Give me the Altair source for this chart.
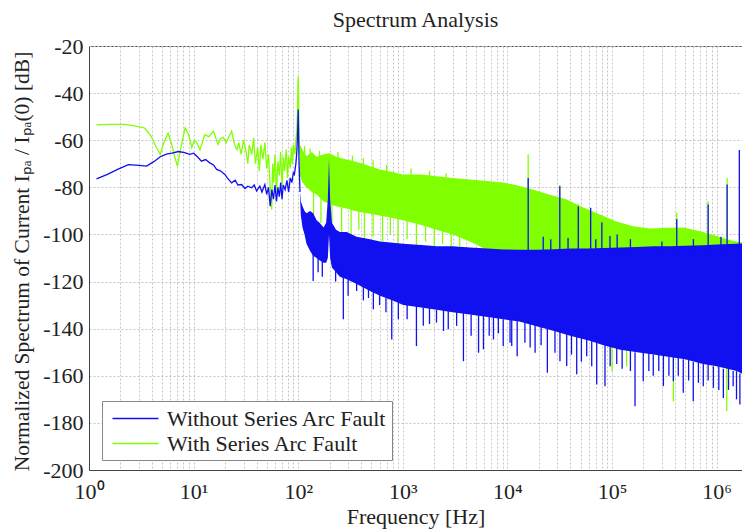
import altair as alt
import pandas as pd

FONT = "Liberation Serif"
BLUE = "#1010f0"
GREEN = "#80ff00"
S_WITHOUT = "Without Series Arc Fault"
S_WITH = "With Series Arc Fault"

# ---- low-frequency traces (Hz, dB) ----
green_lf_f = [1.18, 1.6, 2.0, 2.3, 2.8, 3.4, 3.9, 4.4, 4.8, 5.2, 5.7, 6.2, 6.6, 7.0, 7.5, 8.3, 9.0, 9.6,
              10.2, 10.7, 11.5, 12.8, 14.0, 15.5, 16.3, 17.1, 18.0, 19.1, 20.5, 21.5, 23.1, 24.1, 24.9,
              26.0, 27.0, 28.5, 30.0, 31.5, 33.0, 34.0, 36.0, 37.5, 39.0, 41.0, 42.5, 44.0, 46.0, 48.0,
              50.0, 52.0, 54.0, 55.8, 57.0, 58.5, 60.0, 62.0, 64.0, 66.0, 68.0, 70.0, 72.0, 74.0, 77.0,
              79.0, 81.0, 84.0, 86.0, 88.0, 90.0, 93.0, 95.0, 97.0, 98.5, 99.3, 100.0, 100.7, 102.0, 104.0]
green_lf_db = [-53.5, -53.3, -53.3, -53.4, -54.0, -54.8, -58.0, -63.0, -66.0, -61.0, -57.0, -62.0, -67.0,
               -71.0, -64.0, -54.7, -58.0, -63.0, -60.0, -61.0, -64.0, -57.6, -58.5, -56.2, -59.0, -61.8,
               -59.5, -58.7, -61.0, -59.0, -56.2, -60.0, -62.4, -64.0, -61.0, -66.0, -60.0, -64.0, -70.0,
               -62.0, -66.0, -59.0, -70.0, -63.0, -73.0, -62.0, -68.0, -61.0, -72.0, -66.0, -80.0, -89.4,
               -70.0, -78.0, -66.0, -82.0, -69.0, -75.0, -65.0, -80.0, -67.0, -73.0, -64.0, -76.0, -67.0,
               -72.0, -63.0, -70.0, -62.0, -66.0, -60.0, -56.0, -48.0, -38.0, -33.0, -40.0, -60.0, -66.0]

blue_lf_f = [1.18, 1.5, 1.9, 2.38, 3.0, 3.56, 4.2, 4.8, 5.5, 6.2, 7.15, 8.2, 9.2, 10.0, 10.7, 11.9, 13.0,
             14.3, 15.5, 16.6, 18.0, 19.9, 21.0, 23.1, 25.0, 26.5, 28.8, 31.0, 33.0, 35.9, 38.0, 40.0,
             43.0, 45.0, 48.0, 50.0, 52.0, 54.0, 56.0, 58.0, 60.0, 62.0, 64.0, 66.0, 68.0, 70.0, 72.0,
             75.0, 78.0, 81.0, 84.0, 87.0, 89.8, 92.0, 95.0, 97.0, 98.5, 99.3, 100.0, 100.7, 102.0, 104.0]
blue_lf_db = [-76.4, -74.5, -72.3, -70.4, -70.7, -71.0, -69.0, -67.0, -65.9, -65.5, -64.8, -65.3, -66.0,
              -65.5, -66.7, -68.9, -68.2, -69.6, -70.5, -72.4, -73.0, -74.5, -76.0, -78.1, -77.0, -79.0,
              -78.8, -80.5, -79.5, -80.2, -79.0, -81.5, -79.5, -82.0, -78.8, -83.0, -80.0, -88.0, -81.0,
              -85.0, -79.0, -86.0, -80.0, -84.0, -78.0, -85.0, -79.0, -81.0, -77.0, -82.0, -76.0, -78.0,
              -73.8, -74.5, -70.0, -65.0, -58.0, -52.0, -47.0, -55.0, -70.0, -82.0]

# ---- dense noise bands above 100 Hz: upper envelope / solid lower edge ----
green_band_f = [104, 110, 120, 135, 150, 175, 200, 230, 290, 350, 450, 600, 800, 1000, 1500, 2100, 3000,
                4370, 6000, 9120, 12000, 17700, 25000, 36900, 50000, 76700, 110000, 159000, 230000,
                332000, 480000, 695000, 1000000, 1450000, 2100000]
green_band_hi = [-62, -64, -66.8, -65, -67, -66, -65.5, -67, -68.2, -69, -70.5, -72.4, -73.5, -74.5, -74.5,
                 -75.3, -76, -76.7, -77.2, -78, -79, -81, -83, -85.2, -88, -91.5, -94.5, -96.5, -97.5,
                 -97.2, -97, -98.6, -100.7, -102.8, -104]
green_band_lo = [-75, -78, -80, -82, -83, -86, -87, -88, -89, -90, -91, -92, -93, -94, -96, -98, -100,
                 -103, -106, -120, -120, -120, -120, -120, -120, -120, -120, -120, -120, -120, -120,
                 -120, -120, -120, -120]

blue_band_f = [104, 106, 110, 115, 120, 130, 139, 150, 160, 175, 185, 192, 197, 202, 210, 230, 250, 291,
               362, 486, 606, 800, 1010, 1500, 2100, 3000, 4370, 6500, 9120, 13000, 19000, 28000, 39800,
               60000, 83000, 120000, 174000, 250000, 355000, 500000, 743000, 1000000, 1560000, 2100000]
blue_band_hi = [-82, -86, -88, -90, -91, -90, -91, -94, -95, -97, -95, -85, -68, -85, -95, -98, -99, -99,
                -101, -102, -103, -103.5, -104, -104.5, -105, -105, -105.5, -106, -106.4, -106.5, -106.5,
                -106.3, -106, -106, -105.8, -105.5, -105.3, -105, -105, -104.8, -104.6, -104.3, -104,
                -103.7]
blue_band_lo = [-84, -92, -97, -100, -104, -107, -109, -110, -111, -112, -112, -110, -100, -110, -114,
                -116, -118, -119, -121, -124, -126, -128, -130, -131, -132, -133, -134, -135, -136, -137,
                -139, -141, -143, -145, -147, -149, -150, -151, -152, -153, -155, -156, -158, -161]

# ---- individual spikes (Hz, top dB, bottom dB) ----
green_up_f = [115, 130, 160, 240, 330, 420, 520, 700, 1200, 1800, 2600, 15800, 31700, 47600, 416000,
              830000, 1260000, 2050000]
green_up_top = [-62.5, -63.5, -64.5, -65, -66.5, -67.5, -68.5, -70.5, -72, -73, -74, -66, -79, -87, -90.8,
                -85.9, -76, -91]
green_up_bot = [-70, -70, -70, -70, -72, -73, -74, -75, -76, -77, -78, -85, -88, -90, -100, -100, -104,
                -106]

green_dn_f = [140, 165, 210, 260, 320, 380, 430, 520, 640, 760, 900, 1100, 1350, 1650, 2000, 2400, 2900,
              3500, 100000, 138000, 386000, 1250000]
green_dn_top = [-80, -84, -86, -88, -89, -90, -90, -91, -92, -92, -93, -94, -95, -96, -97, -98, -99, -101,
                -140, -145, -150, -155]
green_dn_bot = [-92, -95, -100, -99, -102, -98, -104, -101, -103, -100, -104, -102, -105, -103, -106, -104,
                -106, -105, -158, -156, -171, -175]

blue_up_f = [22000, 26000, 38000, 70000, 150000, 300000, 600000, 1100000, 15800, 31700, 47600, 62500,
             80000, 95600, 112000, 416000, 830000, 1260000, 1650000, 2050000]
blue_up_top = [-101, -102, -101.5, -102, -102, -103, -102, -101, -76, -79.5, -88, -88.7, -94.8, -100.7,
               -100, -93.6, -87.3, -78.8, -64.2, -93]
blue_up_bot = [-107, -107, -107, -107, -107, -107, -107, -107, -107, -107, -107, -107, -107, -107, -107,
               -107, -107, -107, -107, -107]

blue_dn_f = [139, 155, 170, 228, 270, 300, 362, 420, 470, 523, 600, 690, 784, 906, 1100, 1350, 1570, 1800,
             2100, 2450, 2720, 3270, 3800, 4500, 5300, 5900, 6700, 7360, 8200, 9120, 10600, 11000, 12400,
             14700, 16500, 18400, 21000, 24100, 28500, 31800, 36900, 41000, 46000, 51000, 57300, 64000,
             71400, 85700, 96000, 111000, 125000, 150000, 166000, 199000, 225000, 248000, 280000, 310000,
             350000, 386000, 430000, 480000, 540000, 598000, 670000, 746000, 830000, 932000, 1050000,
             1160000, 1300000, 1440000, 1550000, 1670000, 1800000, 1940000, 2040000]
blue_dn_top = [-108, -110, -111, -115, -117, -119, -120, -122, -123, -124, -125, -127, -127, -129, -130,
               -130, -131, -131, -132, -132, -132, -133, -133, -134, -134, -134, -135, -135, -135, -136,
               -136, -136, -136, -137, -138, -138, -139, -140, -141, -141, -142, -143, -143, -144, -144,
               -145, -146, -147, -147, -148, -149, -149, -150, -150, -150, -151, -151, -151, -152, -152,
               -152, -153, -153, -154, -154, -155, -155, -156, -156, -157, -157, -158, -158, -159, -159,
               -160, -160]
blue_dn_bot = [-119.8, -116, -118, -120, -136, -126, -124, -128, -127, -131.8, -130, -133, -144.6, -136,
               -136, -147.4, -138.8, -138, -137.4, -141, -140.3, -138.8, -153.8, -143, -150.2, -148.8,
               -143, -144.6, -142, -147.4, -146, -147.4, -151.7, -146, -148, -150.2, -147, -158.7,
               -150.2, -153.8, -155.9, -151, -159.4, -154, -151.7, -156, -163.7, -164.4, -156, -155,
               -157, -158, -172.9, -162.3, -158, -160, -158, -164.4, -160, -162.3, -160, -167.2, -162,
               -170.8, -163, -164.4, -162, -165.1, -166, -169.4, -166, -164.4, -170, -172.2, -169,
               -182.8, -184]

x_ticks = [1, 2, 3, 4, 5, 6, 7, 8, 9, 10, 20, 30, 40, 50, 60, 70, 80, 90, 100, 200, 300, 400, 500, 600, 700,
           800, 900, 1000, 2000, 3000, 4000, 5000, 6000, 7000, 8000, 9000, 10000, 20000, 30000, 40000,
           50000, 60000, 70000, 80000, 90000, 100000, 200000, 300000, 400000, 500000, 600000, 700000,
           800000, 900000, 1000000]
y_ticks = [-200, -180, -160, -140, -120, -100, -80, -60, -40, -20]

# ---- tables ----
green_lf = pd.DataFrame({"f": green_lf_f, "db": green_lf_db, "series": S_WITH})
blue_lf = pd.DataFrame({"f": blue_lf_f, "db": blue_lf_db, "series": S_WITHOUT})
green_band = pd.DataFrame({"f": green_band_f, "hi": green_band_hi, "lo": green_band_lo})
blue_band = pd.DataFrame({"f": blue_band_f, "hi": blue_band_hi, "lo": blue_band_lo})
green_up = pd.DataFrame({"f": green_up_f, "top": green_up_top, "bot": green_up_bot})
green_dn = pd.DataFrame({"f": green_dn_f, "top": green_dn_top, "bot": green_dn_bot})
blue_up = pd.DataFrame({"f": blue_up_f, "top": blue_up_top, "bot": blue_up_bot})
blue_dn = pd.DataFrame({"f": blue_dn_f, "top": blue_dn_top, "bot": blue_dn_bot})

PLOT_W = 653
PLOT_H = 424
DECADE_PX = 104.6
x_scale = alt.Scale(type="log", domain=[1, 10 ** (PLOT_W / DECADE_PX)], nice=False)
y_scale = alt.Scale(domain=[-200, -20], nice=False)

sup_expr = ("abs(log(datum.value)/LN10 - round(log(datum.value)/LN10)) < 0.001 ? "
            "'10' + ['\u2070','\u00b9','\u00b2','\u00b3','\u2074','\u2075','\u2076'][round(log(datum.value)/LN10)] : ''")

x_axis = alt.Axis(values=x_ticks, labelExpr=sup_expr, title="Frequency [Hz]", grid=True,
                  gridColor="#c4c4c4", gridDash=[2, 2], gridWidth=1, ticks=False, domainColor="#444",
                  labelFont=FONT, labelFontSize=22, labelColor="#222", labelPadding=11, labelFlush=False,
                  labelOverlap=False, titleFont=FONT, titleFontSize=22, titleFontWeight="normal",
                  titleColor="#222", titlePadding=4)
y_axis = alt.Axis(values=y_ticks, labelExpr="'' + datum.value",
                  title="Normalized Spectrum of Current I\u209a\u2090 / I\u209a\u2090(0) [dB]", grid=True,
                  gridColor="#c4c4c4", gridDash=[2, 2], gridWidth=1, ticks=False, domainColor="#444",
                  labelFont=FONT, labelFontSize=22, labelColor="#222", labelPadding=6,
                  labelFlush=False, titleFont=FONT, titleFontSize=21.5, titleFontWeight="normal",
                  titleColor="#222", titlePadding=9, titleY=PLOT_H / 2 + 3)

X = alt.X("f:Q", scale=x_scale, axis=x_axis)

color_scale = alt.Scale(domain=[S_WITHOUT, S_WITH], range=[BLUE, GREEN])
legend = alt.Legend(orient="none", legendX=13, legendY=355, title=None, symbolType="M-2,0H2",
                    symbolSize=529, symbolStrokeWidth=1.5, symbolOffset=16, labelOffset=19,
                    labelLimit=400, labelFont=FONT, labelFontSize=22, labelColor="#222",
                    fillColor="white", strokeColor="#888", padding=5, rowPadding=1)


def band(df, col):
    return alt.Chart(df).mark_area(color=col, clip=True, interpolate="linear").encode(
        x=X, y=alt.Y("hi:Q", scale=y_scale, axis=y_axis), y2="lo:Q")


def spikes(df, col):
    return alt.Chart(df).mark_rule(color=col, strokeWidth=1.3, clip=True).encode(
        x=X, y=alt.Y("top:Q", scale=y_scale, axis=y_axis), y2="bot:Q")


def lf_line(df):
    return alt.Chart(df).mark_line(strokeWidth=1.3, clip=True).encode(
        x=X, y=alt.Y("db:Q", scale=y_scale, axis=y_axis),
        color=alt.Color("series:N", scale=color_scale, legend=legend))


chart = alt.layer(
    band(green_band, GREEN),
    spikes(green_dn, GREEN),
    spikes(green_up, GREEN),
    lf_line(green_lf),
    band(blue_band, BLUE),
    spikes(blue_dn, BLUE),
    spikes(blue_up, BLUE),
    lf_line(blue_lf),
).properties(
    width=PLOT_W, height=PLOT_H,
    title=alt.Title("Spectrum Analysis", font=FONT, fontSize=22, fontWeight="normal", color="#222",
                    anchor="middle", offset=3),
    autosize=alt.AutoSizeParams(type="none"),
    padding={"left": 81, "top": 38, "right": 0, "bottom": 60},
).configure_view(stroke="#555", strokeWidth=1)

chart.save("out.html", embed_options={"renderer": "svg", "actions": False})
